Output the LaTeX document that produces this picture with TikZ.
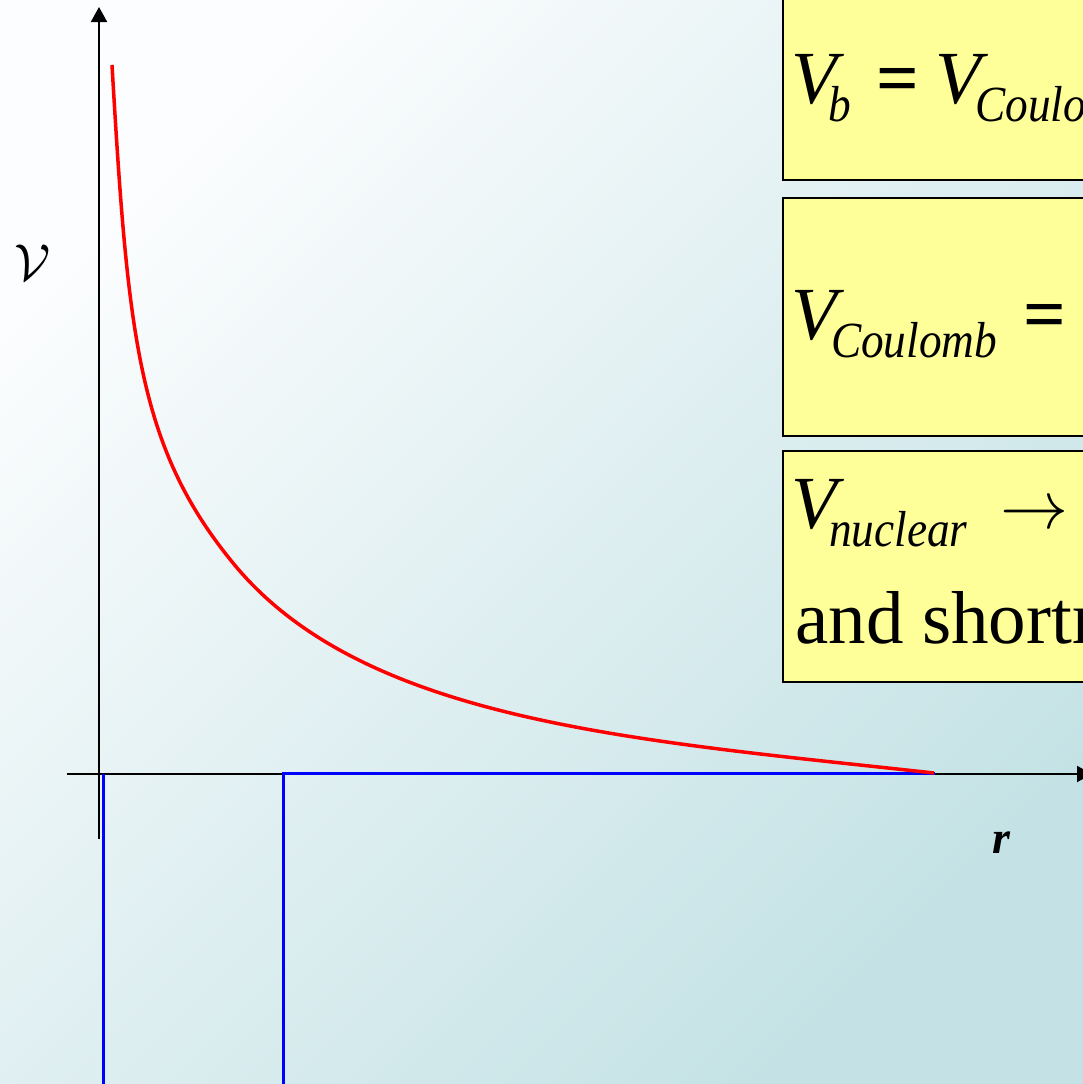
\documentclass[tikz,border=0pt]{standalone}
\usepackage{fontspec}
\setmainfont{Liberation Serif}
\usepackage{graphicx}
\usetikzlibrary{arrows.meta, positioning, calc}
\definecolor{bgwhite}{RGB}{252, 253, 254}
\definecolor{bgteal}{RGB}{196, 226, 229}
\definecolor{boxyellow}{RGB}{255, 255, 153}
\newcommand{\subtext}[1]{\scalebox{1.03}[1.15]{\fontsize{44}{48}\selectfont\itshape #1}}
\newcommand{\potV}[2]{{\itshape V}\kern#1pt\raisebox{-18pt}{\subtext{#2}}}
\newcommand{\eqsign}{{\bfseries =}}
\tikzset{
  axisarrow/.style={-{Triangle[length=15pt, width=16pt]}, line width=2pt, black},
  redcurve/.style={line width=3.5pt, red},
  bluewell/.style={line width=3pt, blue},
  yellowbox/.style={draw, line width=2pt, fill=boxyellow, anchor=north west, minimum width=450pt},
  boxtext/.style={anchor=base west, inner sep=0pt, font=\fontsize{75}{80}\selectfont}
}

\begin{document}
\begin{tikzpicture}[x=1pt, y=-1pt]
    \useasboundingbox (0,0) rectangle (1083,1084);
    \clip (0,0) rectangle (1083,1084);
    \shade[top color=bgwhite, bottom color=bgteal, shading angle=45] (0,0) rectangle (1083,1084);

    % axes
    \coordinate (ybot) at (99,839);
    \coordinate (ytop) at (99,7);
    \coordinate (xleft) at (67,774);
    \coordinate (xright) at (1092,774);
    \draw[axisarrow] (ybot) -- (ytop);
    \draw[axisarrow] (xleft) -- (xright);
    \node (vlabel) at (33,263) {\scalebox{5.2}{$\mathcal{V}$}};
    \node (rlabel) at (1001,843) {\fontsize{46}{50}\selectfont\bfseries\itshape r};

    % square well
    \coordinate (wellA) at (103,774);
    \coordinate (wellB) at (103,1110);
    \coordinate (wellC) at (283,1110);
    \coordinate (wellD) at (283,773);
    \coordinate (wellE) at (935,773);
    \draw[bluewell] (wellA) -- (wellB) -- (wellC) -- (wellD) -- (wellE);

    % coulomb tail
    \coordinate (tailtop) at (112,65);
    \coordinate (tailmid) at (233,563);
    \coordinate (tailend) at (934,773);
    \draw[redcurve] (tailtop) .. controls (128,337) and (138,447) .. (tailmid)
      .. controls (363,722) and (634,740) .. (tailend);

    % boxes
    \node[yellowbox, minimum height=200pt] (box1) at (782,-21) {};
    \node[yellowbox, minimum height=238pt] (box2) at (782,197) {};
    \node[yellowbox, minimum height=231pt] (box3) at (782,450) {};
    \node[boxtext] (eqb) at (791,103) {\potV{-9}{b}\hspace{26pt}\eqsign\hspace{16pt}\potV{-6}{Coulomb}};
    \node[boxtext] (eqcoul) at (791,339) {\potV{-6}{Coulomb}\hspace{26pt}\eqsign};
    \node[boxtext] (eqnuc) at (791,528) {\potV{-8}{nuclear}\hspace{33pt}{\normalsize\scalebox{6.8}{$\rightarrow$}}};
    \node[boxtext] (shortline) at (795,643) {and shortr};
\end{tikzpicture}
\end{document}
